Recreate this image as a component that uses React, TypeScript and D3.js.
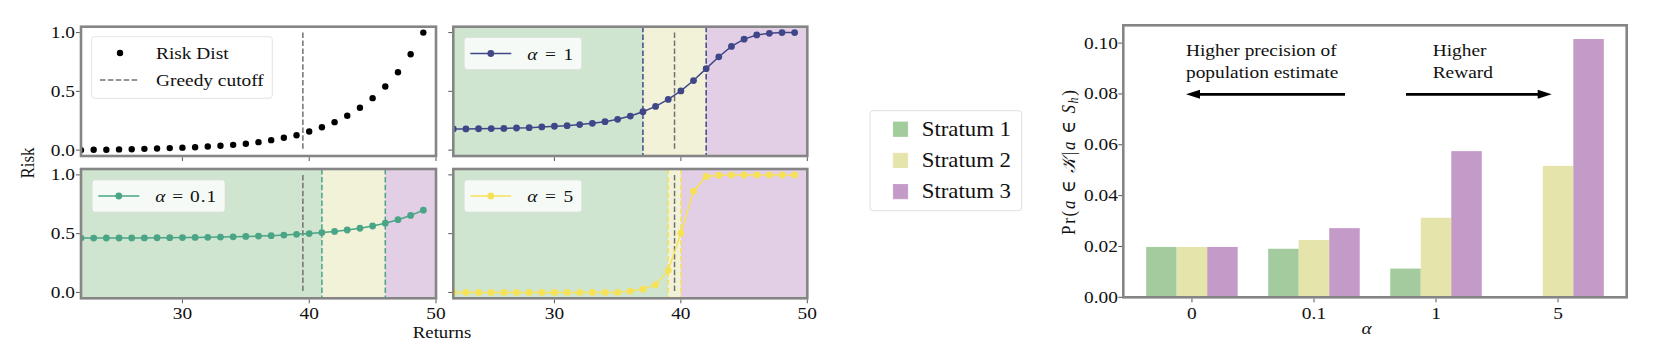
import React from "react";
import * as d3 from "d3";

// ---------------- data ----------------
const returnsX = [22, 23, 24, 25, 26, 27, 28, 29, 30, 31, 32, 33, 34, 35, 36, 37, 38, 39, 40, 41, 42, 43, 44, 45, 46, 47, 48, 49];
const riskDist = [0, 0.003, 0.003, 0.006, 0.008, 0.011, 0.014, 0.017, 0.021, 0.025, 0.031, 0.037, 0.045, 0.054, 0.068, 0.085, 0.105, 0.127, 0.159, 0.195, 0.238, 0.292, 0.36, 0.442, 0.541, 0.663, 0.816, 1.0];
const riskA1 = [0.18, 0.18, 0.182, 0.183, 0.185, 0.188, 0.191, 0.197, 0.203, 0.208, 0.217, 0.228, 0.242, 0.262, 0.29, 0.327, 0.372, 0.431, 0.504, 0.592, 0.693, 0.794, 0.882, 0.944, 0.98, 0.994, 1.0, 1.0];
const riskA01 = [0.462, 0.462, 0.463, 0.463, 0.464, 0.464, 0.465, 0.466, 0.467, 0.468, 0.469, 0.471, 0.473, 0.476, 0.479, 0.483, 0.488, 0.494, 0.501, 0.509, 0.519, 0.531, 0.546, 0.565, 0.589, 0.619, 0.655, 0.7];
const riskA5 = [0, 0, 0, 0, 0, 0, 0, 0, 0, 0, 0, 0, 0, 0, 0.011, 0.028, 0.065, 0.187, 0.504, 0.861, 0.986, 0.997, 1.0, 1.0, 1.0, 1.0, 1.0, 1.0];
const greedyCutoff = 39.5;
const boundsA1 = [37, 42];
const boundsA01 = [41, 46];
const boundsA5 = [39, 40];
const xTicks = [30, 40, 50];
const yTicks = [0, 0.5, 1.0];

const alphaLabels = ["0", "0.1", "1", "5"];
const stratum1 = [0.0198, 0.0191, 0.0113, 0.0003];
const stratum2 = [0.0198, 0.0225, 0.0313, 0.0517];
const stratum3 = [0.0198, 0.0272, 0.0575, 0.1016];
const barYTicks = [0, 0.02, 0.04, 0.06, 0.08, 0.1];
const strataNames = ["Stratum 1", "Stratum 2", "Stratum 3"];

// ---------------- style ----------------
const FONT = "Liberation Serif, DejaVu Serif, serif";
const FS = 17;
const SX = 1.14; // the reference is stretched horizontally
const SPINE = "#858585";
const TICK = "#444";
const GREEDY = "#707070";
const BG = ["#d0e5d0", "#f2f2d8", "#e3cfe5"];
const BAR = ["#a3cb9e", "#e5e4ab", "#c49bc8"];
const C_A1 = "#404788";
const C_A01 = "#4aa586";
const C_A5 = "#f7e257";

const colL: [number, number] = [81, 436];
const colR: [number, number] = [453.3, 807.3];
const rowT: [number, number] = [26.7, 156];
const rowB: [number, number] = [169, 298.3];

function T({
  x,
  y,
  anchor = "start",
  size = FS,
  len,
  italic,
  children,
}: {
  x: number;
  y: number;
  anchor?: string;
  size?: number;
  len?: number;
  italic?: boolean;
  children: React.ReactNode;
}) {
  const extra: any = {};
  if (len) {
    extra.textLength = len / SX;
    extra.lengthAdjust = "spacing";
  }
  return (
    <text
      transform={`translate(${x},${y}) scale(${SX},1)`}
      textAnchor={anchor}
      fontSize={size}
      fontStyle={italic ? "italic" : undefined}
      fill="#111"
      {...extra}
    >
      {children}
    </text>
  );
}

type PanelProps = {
  id: string;
  col: [number, number];
  row: [number, number];
  yLabels: boolean;
  xLabels: boolean;
  children: (x: d3.ScaleLinear<number, number>, y: d3.ScaleLinear<number, number>) => React.ReactNode;
};

function Panel({ id, col, row, yLabels, xLabels, children }: PanelProps) {
  const x = d3.scaleLinear().domain([22, 50]).range(col);
  const y = d3.scaleLinear().domain([-0.05, 1.05]).range([row[1], row[0]]);
  return (
    <g>
      <defs>
        <clipPath id={id}>
          <rect x={col[0]} y={row[0]} width={col[1] - col[0]} height={row[1] - row[0]} />
        </clipPath>
      </defs>
      <g clipPath={`url(#${id})`}>{children(x, y)}</g>
      <rect x={col[0]} y={row[0]} width={col[1] - col[0]} height={row[1] - row[0]} fill="none" stroke={SPINE} strokeWidth={2.6} />
      {yTicks.map((t) => (
        <g key={"y" + t}>
          <line x1={col[0] - 1.3} x2={col[0] - 5} y1={y(t)} y2={y(t)} stroke={TICK} strokeWidth={0.9} />
          {yLabels && (
            <T x={col[0] - 6} y={y(t) + 5.5} anchor="end">
              {t.toFixed(1)}
            </T>
          )}
        </g>
      ))}
      {xTicks.map((t) => (
        <g key={"x" + t}>
          <line x1={x(t)} x2={x(t)} y1={row[1] + 1.3} y2={row[1] + 5} stroke={TICK} strokeWidth={0.9} />
          {xLabels && (
            <T x={x(t)} y={row[1] + 21} anchor="middle">
              {t}
            </T>
          )}
        </g>
      ))}
    </g>
  );
}

function strataBg(x: d3.ScaleLinear<number, number>, row: [number, number], b: number[], color: string) {
  const edges = [22, b[0], b[1], 50];
  return (
    <g>
      {BG.map((c, i) => (
        <rect key={i} x={x(edges[i])} y={row[0]} width={x(edges[i + 1]) - x(edges[i])} height={row[1] - row[0]} fill={c} />
      ))}
      {b.map((v) => (
        <line key={v} x1={x(v)} x2={x(v)} y1={row[0]} y2={row[1]} stroke={color} strokeWidth={1.5} strokeDasharray="5.5,2.4" />
      ))}
    </g>
  );
}

function greedy(x: d3.ScaleLinear<number, number>, y: d3.ScaleLinear<number, number>) {
  return <line x1={x(greedyCutoff)} x2={x(greedyCutoff)} y1={y(1)} y2={y(0)} stroke={GREEDY} strokeWidth={1.5} strokeDasharray="5.5,2.4" />;
}

function series(x: d3.ScaleLinear<number, number>, y: d3.ScaleLinear<number, number>, vals: number[], color: string) {
  const line = d3
    .line<number>()
    .x((_, i) => x(returnsX[i]))
    .y((d) => y(d));
  return (
    <g>
      <path d={line(vals) || ""} fill="none" stroke={color} strokeWidth={1.5} />
      {vals.map((v, i) => (
        <circle key={i} cx={x(returnsX[i])} cy={y(v)} r={3.4} fill={color} />
      ))}
    </g>
  );
}

function AlphaLegend({ x0, y0, w, color, label, len }: { x0: number; y0: number; w: number; color: string; label: string; len: number }) {
  const cy = y0 + 16;
  return (
    <g>
      <rect x={x0} y={y0} width={w} height={32} rx={3} fill="#ffffff" fillOpacity={0.8} stroke="#dddddd" strokeOpacity={0.8} strokeWidth={0.8} />
      <line x1={x0 + 6} x2={x0 + 47} y1={cy} y2={cy} stroke={color} strokeWidth={1.5} />
      <circle cx={x0 + 26.5} cy={cy} r={3.4} fill={color} />
      <T x={x0 + 63} y={cy + 6} len={len}>
        <tspan fontStyle="italic">α</tspan>
        <tspan> = {label}</tspan>
      </T>
    </g>
  );
}

export default function App() {
  // bar chart scales
  const bx = d3.scaleLinear().domain([-0.5625, 3.5625]).range([1123.3, 1626.7]);
  const by = d3.scaleLinear().domain([0, 0.107]).range([297.3, 25.3]);
  const bw = bx(0.25) - bx(0);
  const barSeries = [stratum1, stratum2, stratum3];

  return (
    <svg
      width={1676}
      height={356}
      style={{ position: "absolute", left: 0, top: 0, background: "#fff" }}
      fontFamily={FONT}
    >
      <rect x={0} y={0} width={1676} height={356} fill="#fff" />

      {/* Top-left: Risk distribution */}
      <Panel id="cTL" col={colL} row={rowT} yLabels={true} xLabels={false}>
        {(x, y) => (
          <g>
            {greedy(x, y)}
            {riskDist.map((v, i) => (
              <circle key={i} cx={x(returnsX[i])} cy={y(v)} r={3.2} fill="#000" />
            ))}
          </g>
        )}
      </Panel>
      <g>
        <rect x={91.7} y={36.7} width={180.6} height={61.6} rx={3} fill="#fff" fillOpacity={0.8} stroke="#dddddd" strokeWidth={0.8} />
        <circle cx={120} cy={53} r={3.2} fill="#000" />
        <T x={156} y={59}>Risk Dist</T>
        <line x1={100} x2={138} y1={80} y2={80} stroke={GREEDY} strokeWidth={1.5} strokeDasharray="5.5,2.4" />
        <T x={156} y={86}>Greedy cutoff</T>
      </g>

      {/* Top-right: alpha = 1 */}
      <Panel id="cTR" col={colR} row={rowT} yLabels={false} xLabels={false}>
        {(x, y) => (
          <g>
            {strataBg(x, rowT, boundsA1, C_A1)}
            {greedy(x, y)}
            {series(x, y, riskA1, C_A1)}
          </g>
        )}
      </Panel>
      <AlphaLegend x0={464.3} y0={37.5} w={117.4} color={C_A1} label="1" len={46} />

      {/* Bottom-left: alpha = 0.1 */}
      <Panel id="cBL" col={colL} row={rowB} yLabels={true} xLabels={true}>
        {(x, y) => (
          <g>
            {strataBg(x, rowB, boundsA01, C_A01)}
            {greedy(x, y)}
            {series(x, y, riskA01, C_A01)}
          </g>
        )}
      </Panel>
      <AlphaLegend x0={92.3} y0={180} w={132.7} color={C_A01} label="0.1" len={61} />

      {/* Bottom-right: alpha = 5 */}
      <Panel id="cBR" col={colR} row={rowB} yLabels={false} xLabels={true}>
        {(x, y) => (
          <g>
            {strataBg(x, rowB, boundsA5, C_A5)}
            {greedy(x, y)}
            {series(x, y, riskA5, C_A5)}
          </g>
        )}
      </Panel>
      <AlphaLegend x0={464.3} y0={180} w={117.4} color={C_A5} label="5" len={46} />

      {/* shared labels */}
      <T x={442} y={338} anchor="middle" size={16.5}>Returns</T>
      <text transform="translate(34,163) rotate(-90) scale(1,1.14)" textAnchor="middle" fontSize={FS} fill="#111">Risk</text>

      {/* Strata legend */}
      <g>
        <rect x={870} y={110.7} width={151.7} height={100} rx={3} fill="#fff" stroke="#d6d6d6" strokeWidth={0.8} />
        {strataNames.map((n, i) => {
          const cy = 129 + i * 31.2;
          return (
            <g key={n}>
              <rect x={893.3} y={cy - 7} width={14.4} height={14.4} fill={BAR[i]} stroke={BAR[i]} strokeWidth={0.8} />
              <T x={921.7} y={cy + 6.5} size={20}>{n}</T>
            </g>
          );
        })}
      </g>

      {/* Bar chart */}
      <g>
        {barSeries.map((s, k) =>
          s.map((v, i) => (
            <rect
              key={k + "-" + i}
              x={bx(i + (k - 1) * 0.25) - bw / 2}
              y={by(v)}
              width={bw}
              height={by(0) - by(v)}
              fill={BAR[k]}
            />
          ))
        )}
        <rect x={1123.3} y={25.3} width={1626.7 - 1123.3} height={297.3 - 25.3} fill="none" stroke={SPINE} strokeWidth={2.6} />
        {barYTicks.map((t) => (
          <g key={t}>
            <line x1={1123.3 - 1.3} x2={1123.3 - 5} y1={by(t)} y2={by(t)} stroke={TICK} strokeWidth={0.9} />
            <T x={1118} y={by(t) + 5.5} anchor="end">
              {t.toFixed(2)}
            </T>
          </g>
        ))}
        {alphaLabels.map((l, i) => (
          <g key={l}>
            <line x1={bx(i)} x2={bx(i)} y1={297.3 + 1.3} y2={297.3 + 5} stroke={TICK} strokeWidth={0.9} />
            <T x={bx(i)} y={319} anchor="middle">{l}</T>
          </g>
        ))}
        <T x={1366.7} y={334} anchor="middle" italic={true}>α</T>
        <text
          transform="translate(1075,162.5) rotate(-90) scale(1,1.14)"
          textAnchor="middle"
          fontSize={FS}
          fill="#111"
          textLength={145}
          lengthAdjust="spacing"
        >
          <tspan>Pr(</tspan>
          <tspan fontStyle="italic">a</tspan>
          <tspan> ∈ </tspan>
          <tspan fontStyle="italic">𝒦</tspan>
          <tspan>|</tspan>
          <tspan fontStyle="italic">a</tspan>
          <tspan> ∈ </tspan>
          <tspan fontStyle="italic">S</tspan>
          <tspan fontStyle="italic" fontSize={12} dy={3}>h</tspan>
          <tspan dy={-3}>)</tspan>
        </text>

        {/* annotations */}
        <T x={1186} y={56}>Higher precision of</T>
        <T x={1186} y={78}>population estimate</T>
        <line x1={1345} x2={1198} y1={94.3} y2={94.3} stroke="#000" strokeWidth={2.8} />
        <polygon points="1186,94.3 1200,89.8 1200,98.8" fill="#000" />
        <T x={1432.7} y={56}>Higher</T>
        <T x={1432.7} y={77.5}>Reward</T>
        <line x1={1406} x2={1540} y1={94.3} y2={94.3} stroke="#000" strokeWidth={2.8} />
        <polygon points="1551.7,94.3 1537.7,89.8 1537.7,98.8" fill="#000" />
      </g>
    </svg>
  );
}
